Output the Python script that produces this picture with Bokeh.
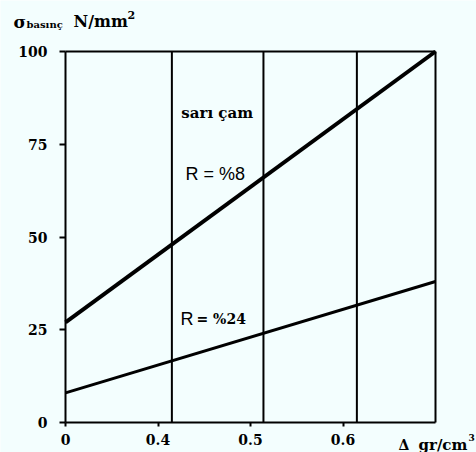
from bokeh.plotting import figure
from bokeh.models import Range1d, FixedTicker, Label, LinearAxis
from bokeh.embed import file_html
from bokeh.resources import INLINE

# Data
x_ends = [0.3, 0.7]          # the "0" tick stands for the broken-axis start
r8_vals = [27, 100]          # R = %8
r24_vals = [8, 38]           # R = %24
ref_lines = [0.415, 0.514, 0.615]
x_ticks = [0.3, 0.4, 0.5, 0.6]
x_tick_labels = ["0", "0.4", "0.5", "0.6"]
y_ticks = [0, 25, 50, 75, 100]

BG = "#F3FEFE"
SERIF = "DejaVu Serif"

# layout: plot box position inside the canvas (pixels)
W, H = 476, 452
BOX_L, BOX_R, BOX_T, BOX_B = 65, 435, 51, 422
x0, x1 = x_ends[0], x_ends[-1]
y0, y1 = y_ticks[0], y_ticks[-1]
sx = (BOX_R - BOX_L) / (x1 - x0)
sy = (BOX_B - BOX_T) / (y1 - y0)
xr = Range1d(x0 - BOX_L / sx, x1 + (W - BOX_R) / sx)
yr = Range1d(y0 - (H - BOX_B) / sy, y1 + BOX_T / sy)

p = figure(width=W, height=H, output_backend="svg", toolbar_location=None,
           x_range=xr, y_range=yr, min_border=0,
           x_axis_location=None, y_axis_location=None)
p.background_fill_color = BG
p.border_fill_color = BG
p.outline_line_color = None
p.grid.visible = False

xaxis = LinearAxis(fixed_location=y0, bounds=(x0, x1))
yaxis = LinearAxis(fixed_location=x0, bounds=(y0, y1))
for ax in (xaxis, yaxis):
    ax.axis_line_width = 2
    ax.axis_line_color = "black"
    ax.major_tick_line_width = 2
    ax.major_tick_in = 0
    ax.minor_tick_line_color = None
    ax.major_label_text_font = SERIF
    ax.major_label_text_font_style = "bold"
    ax.major_label_text_font_size = "14px"
    ax.major_label_text_color = "black"
xaxis.ticker = FixedTicker(ticks=x_ticks)
xaxis.major_label_overrides = {t: l for t, l in zip(x_ticks, x_tick_labels)}
xaxis.major_tick_out = 4
xaxis.major_label_standoff = 7
yaxis.ticker = FixedTicker(ticks=y_ticks)
yaxis.major_tick_out = 6
yaxis.major_label_standoff = 12
p.add_layout(xaxis, "below")
p.add_layout(yaxis, "left")

# box top and right edges
p.line([x0, x1], [y1, y1], line_color="black", line_width=2)
p.line([x1, x1], [y0, y1], line_color="black", line_width=2)

for xv in ref_lines:
    p.line([xv, xv], [y0, y1], line_color="black", line_width=2)

p.line(x_ends, r8_vals, line_color="black", line_width=4)
p.line(x_ends, r24_vals, line_color="black", line_width=3)

def lab(text, x, y, size, xo=0, yo=0, font=SERIF, style="bold", align="left", base="alphabetic"):
    p.add_layout(Label(x=x, y=y, x_offset=xo, y_offset=yo, text=text,
                       text_font=font, text_font_style=style, text_font_size=size,
                       text_color="black", text_align=align, text_baseline=base))

# In-plot annotations
lab("sarı çam", 0.464, 83.3, "15px", align="center", base="middle")
lab("R = %8", 0.4297, 67.1, "18px", font="Liberation Sans", style="normal", base="middle")
lab("R", 0.4243, 28, "18px", font="Liberation Sans", style="normal", base="middle")
lab("= %24", 0.4243, 28, "14px", xo=16, base="middle")

# Y axis title
lab("σ", x0, y1, "17px", xo=-52, yo=30)
lab("basınç", x0, y1, "10px", xo=-39, yo=27)
lab("N/mm", x0, y1, "16px", xo=8, yo=30)
lab("2", x0, y1, "11px", xo=62, yo=37)

# X axis title
lab("Δ", 0.66, y0, "14px", yo=-22)
lab("gr/cm", 0.66, y0, "15px", xo=20, yo=-22)
lab("3", 0.66, y0, "9px", xo=70, yo=-15)

open("out.html", "w").write(file_html(p, INLINE))
